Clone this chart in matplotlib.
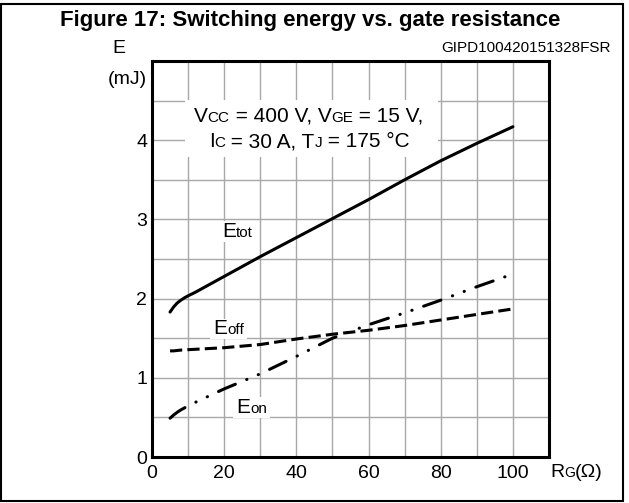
import numpy as np
import matplotlib
matplotlib.use('Agg')
import matplotlib.pyplot as plt
from matplotlib.patches import Rectangle
from matplotlib.transforms import offset_copy, IdentityTransform
from matplotlib.font_manager import FontProperties

plt.rcParams['font.family'] = ['Liberation Sans', 'DejaVu Sans']

# valores
rg = [5, 6, 7, 8, 9, 10, 12, 20, 30, 40, 50, 60, 70, 80, 90, 100]
e_tot = [1.83, 1.895, 1.945, 1.98, 2.01, 2.035, 2.08, 2.28, 2.53, 2.77, 3.01, 3.25, 3.50, 3.74, 3.96, 4.17]
e_off = [1.34, 1.34, 1.345, 1.35, 1.35, 1.355, 1.36, 1.38, 1.42, 1.49, 1.55, 1.60, 1.66, 1.73, 1.80, 1.87]
e_on = [0.49, 0.53, 0.565, 0.595, 0.62, 0.645, 0.69, 0.86, 1.05, 1.27, 1.50, 1.67, 1.82, 1.98, 2.15, 2.31]

x_ticks = [0, 20, 40, 60, 80, 100]
y_ticks = [0, 1, 2, 3, 4]

W, H = 629, 503
fig = plt.figure(figsize=(W / 100, H / 100), dpi=100)
ax = fig.add_axes([152 / W, 1 - 457 / H, (549 - 152) / W, (457 - 61) / H])
renderer = fig.canvas.get_renderer()


def px(x, y):
    return x / W, 1 - y / H


def text_width(s, size):
    fp = FontProperties(family=['Liberation Sans'], size=size)
    w1 = renderer.get_text_width_height_descent('|' + s + '|', fp, ismath=False)[0]
    w0 = renderer.get_text_width_height_descent('||', fp, ismath=False)[0]
    return w1 - w0


def rich_text(x, y, parts, trans, ha='left', bg=False):
    widths = [text_width(s, fs) for s, fs in parts]
    dx = -sum(widths) / 2 if ha == 'center' else 0
    x0 = dx
    for (s, fs), w in zip(parts, widths):
        fig.text(x, y, s, fontsize=fs, va='baseline', ha='left', zorder=6,
                 transform=offset_copy(trans, fig=fig, x=dx, y=0, units='dots'))
        dx += w
    if bg:
        bx, by = trans.transform((x, y))
        big = max(fs for s, fs in parts) * 100 / 72
        r = Rectangle((bx + x0 - 3, by - 0.25 * big), dx - x0 + 6, big * 1.0,
                      transform=IdentityTransform(), fc='white', ec='none', zorder=5)
        fig.add_artist(r)


# rejilla
ax.set_xlim(0, 110)
ax.set_ylim(0, 5)
ax.set_xticks(x_ticks)
ax.set_yticks(y_ticks)
ax.set_xticks(np.arange(0, 111, 10), minor=True)
ax.set_yticks(np.arange(0, 5.01, 0.5), minor=True)
ax.grid(True, which='both', color='#a8a8a8', linewidth=1.0)
ax.set_axisbelow(True)
ax.tick_params(which='both', length=0)
ax.tick_params(axis='x', labelsize=14, pad=5.5)
ax.tick_params(axis='y', labelsize=14, pad=3.5)
for sp in ax.spines.values():
    sp.set_linewidth(2.2)
    sp.set_zorder(10)

# curvas
ax.plot(rg, e_tot, color='black', linewidth=2.2, solid_capstyle='round', zorder=3)
ax.plot(rg, e_off, color='black', linewidth=2.2, dashes=(4, 1.7), zorder=3)
ax.plot(rg, e_on, color='black', linewidth=2.2, dashes=(6, 4, 0.1, 4, 0.1, 4),
        dash_capstyle='round', zorder=3)

# cuadro de condiciones
ax.add_patch(Rectangle((9.1, 3.79), 70.1, 0.72, fc='white', ec='none', zorder=1))
rich_text(43.4, 4.23, [('V', 15), ('CC', 11), (' = 400 V, V', 15), ('GE', 11), (' = 15 V,', 15)],
          ax.transData, ha='center')
rich_text(43.6, 3.91, [('I', 15), ('C', 11), (' = 30 A, T', 15), ('J', 11), (' = 175 \u00b0C', 15)],
          ax.transData, ha='center')

# etiquetas de curvas
rich_text(19.4, 2.78, [('E', 15), ('tot', 11)], ax.transData, bg=True)
rich_text(17.0, 1.55, [('E', 15), ('off', 11)], ax.transData, bg=True)
rich_text(23.4, 0.56, [('E', 15), ('on', 11)], ax.transData, bg=True)

# textos de la figura
fig.text(*px(310, 26), 'Figure 17: Switching energy vs. gate resistance', fontsize=16,
         fontweight='bold', ha='center', va='baseline')
fig.text(*px(611, 52), 'GIPD100420151328FSR', fontsize=11, ha='right', va='baseline')
fig.text(*px(119, 53), 'E', fontsize=14, ha='center', va='baseline')
fig.text(*px(127, 84), '(mJ)', fontsize=14, ha='center', va='baseline')
rich_text(*px(550, 477), [('R', 14), ('G', 10), ('(\u03a9)', 14)], fig.transFigure)

# marco exterior
fig.add_artist(Rectangle(px(1, 501), 622 / W, 497 / H, transform=fig.transFigure,
                         fill=False, ec='black', linewidth=1.5))

plt.savefig('out.png', dpi=100)
